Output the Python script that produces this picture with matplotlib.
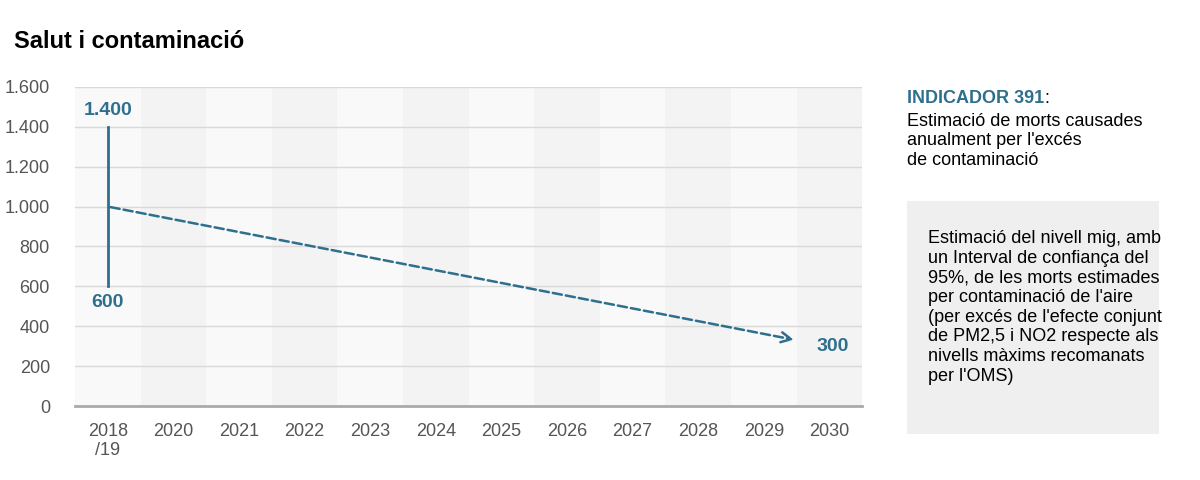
"""
Salut i contaminació: indicador 391.
"""

import matplotlib.pyplot as plt

plt.rcParams['font.family'] = ['Liberation Sans Narrow', 'Liberation Sans', 'DejaVu Sans']

# Data
# ----------------------------------------------------------------------------

years = ['2018\n/19', '2020', '2021', '2022', '2023', '2024', '2025', '2026',
         '2027', '2028', '2029', '2030']
interval = [600, 1400]  # interval de confiança 2018/19
trend_x = [0, 10.5]
trend_y = [1000, 330]
target = 300
yticks = [0, 200, 400, 600, 800, 1000, 1200, 1400, 1600]

blue = '#2e6f8e'

# Plot
# ----------------------------------------------------------------------------

fig = plt.figure(figsize=(12, 4.8), dpi=100)
ax = fig.add_axes([0.0625, 0.154, 0.656, 0.665])

for i in range(len(years)):
    ax.axvspan(i - 0.5, i + 0.5, color='#f3f3f3' if i % 2 else '#f9f9f9', lw=0, zorder=0)

for y in yticks[1:]:
    ax.axhline(y, color='#d9d9d9', lw=1, zorder=1)

ax.plot([0, 0], interval, color=blue, lw=2, zorder=3)
ax.annotate('', xy=(trend_x[1], trend_y[1]), xytext=(trend_x[0], trend_y[0]),
            arrowprops=dict(arrowstyle='->', color=blue, lw=1.8, ls='--',
                            mutation_scale=18), zorder=3)
ax.text(0, interval[1] + 40, '1.400', color=blue, fontsize=14, fontweight='bold',
        ha='center', va='bottom')
ax.text(0, interval[0] - 40, '600', color=blue, fontsize=14, fontweight='bold',
        ha='center', va='top')
ax.text(trend_x[1] + 0.3, target, '300', color=blue, fontsize=14,
        fontweight='bold', ha='left', va='center')

ax.set_xlim(-0.5, len(years) - 0.5)
ax.set_ylim(0, 1600)
ax.set_xticks(range(len(years)))
ax.set_xticklabels(years, fontsize=13, color='#555555', va='top')
ax.set_yticks(yticks)
ax.set_yticklabels([f'{v:,}'.replace(',', '.') for v in yticks], fontsize=13, color='#555555')
ax.tick_params(length=0, pad=12)
ax.tick_params(axis='y', pad=18)
for s in ['top', 'right', 'left']:
    ax.spines[s].set_visible(False)
ax.spines['bottom'].set_color('#aaaaaa')
ax.spines['bottom'].set_linewidth(2)

fig.text(0.012, 0.9, 'Salut i contaminació', fontsize=17, fontweight='bold',
         family=['Liberation Sans', 'DejaVu Sans'])

t = fig.text(0.756, 0.785, 'INDICADOR 391', fontsize=13, fontweight='bold', color=blue)
fig.canvas.draw()
bb = t.get_window_extent().transformed(fig.transFigure.inverted())
fig.text(bb.x1, 0.785, ':', fontsize=13)
fig.text(0.756, 0.765, "Estimació de morts causades\nanualment per l'excés\nde contaminació",
         fontsize=13, va='top', linespacing=1.2)

box = plt.Rectangle((0.756, 0.095), 0.21, 0.487, transform=fig.transFigure,
                    color='#efefef', lw=0)
fig.patches.append(box)
fig.text(0.773, 0.52, "Estimació del nivell mig, amb\nun Interval de confiança del\n"
         "95%, de les morts estimades\nper contaminació de l'aire\n"
         "(per excés de l'efecte conjunt\nde PM2,5 i NO2 respecte als\n"
         "nivells màxims recomanats\nper l'OMS)",
         fontsize=13, va='top', linespacing=1.2)

fig.savefig('out.png')
